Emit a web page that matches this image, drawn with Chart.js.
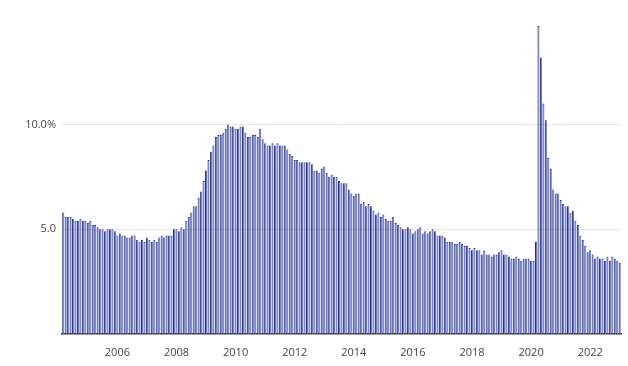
<!DOCTYPE html>
<html>
<head>
<meta charset="utf-8">
<script src="https://cdn.jsdelivr.net/npm/chart.js@4"></script>
<style>
  html, body { margin: 0; padding: 0; background: #fff; }
  #wrap { width: 628px; height: 366px; }
</style>
</head>
<body>
<div id="wrap"><canvas id="rateChart" width="628" height="366"></canvas></div>
<script>
// monthly unemployment rate, Mar 2004 - Jan 2023
const startYear = 2004;
const startMonth = 3;

const rates = [
  5.8, 5.6, 5.6, 5.6, 5.5, 5.4, 5.4, 5.5, 5.4, 5.4,           // 2004 (Mar-Dec)
  5.3, 5.4, 5.2, 5.2, 5.1, 5.0, 5.0, 4.9, 5.0, 5.0, 5.0, 4.9, // 2005
  4.7, 4.8, 4.7, 4.7, 4.6, 4.6, 4.7, 4.7, 4.5, 4.4, 4.5, 4.4, // 2006
  4.6, 4.5, 4.4, 4.5, 4.4, 4.6, 4.7, 4.6, 4.7, 4.7, 4.7, 5.0, // 2007
  5.0, 4.9, 5.1, 5.0, 5.4, 5.6, 5.8, 6.1, 6.1, 6.5, 6.8, 7.3, // 2008
  7.8, 8.3, 8.7, 9.0, 9.4, 9.5, 9.5, 9.6, 9.8, 10.0, 9.9, 9.9, // 2009
  9.8, 9.8, 9.9, 9.9, 9.6, 9.4, 9.4, 9.5, 9.5, 9.4, 9.8, 9.3, // 2010
  9.1, 9.0, 9.0, 9.1, 9.0, 9.1, 9.0, 9.0, 9.0, 8.8, 8.6, 8.5, // 2011
  8.3, 8.3, 8.2, 8.2, 8.2, 8.2, 8.2, 8.1, 7.8, 7.8, 7.7, 7.9, // 2012
  8.0, 7.7, 7.5, 7.6, 7.5, 7.5, 7.3, 7.2, 7.2, 7.2, 6.9, 6.7, // 2013
  6.6, 6.7, 6.7, 6.2, 6.3, 6.1, 6.2, 6.1, 5.9, 5.7, 5.8, 5.6, // 2014
  5.7, 5.5, 5.4, 5.4, 5.6, 5.3, 5.2, 5.1, 5.0, 5.0, 5.1, 5.0, // 2015
  4.8, 4.9, 5.0, 5.1, 4.8, 4.9, 4.8, 4.9, 5.0, 4.9, 4.7, 4.7, // 2016
  4.7, 4.6, 4.4, 4.4, 4.4, 4.3, 4.3, 4.4, 4.3, 4.2, 4.2, 4.1, // 2017
  4.0, 4.1, 4.0, 4.0, 3.8, 4.0, 3.8, 3.8, 3.7, 3.8, 3.8, 3.9, // 2018
  4.0, 3.8, 3.8, 3.7, 3.6, 3.6, 3.7, 3.6, 3.5, 3.6, 3.6, 3.6, // 2019
  3.5, 3.5, 4.4, 14.7, 13.2, 11.0, 10.2, 8.4, 7.9, 6.9, 6.7, 6.7, // 2020
  6.4, 6.2, 6.1, 6.1, 5.8, 5.9, 5.4, 5.2, 4.7, 4.5, 4.2, 3.9, // 2021
  4.0, 3.8, 3.6, 3.7, 3.6, 3.6, 3.5, 3.7, 3.5, 3.7, 3.6, 3.5, // 2022
  3.4                                                         // 2023 (Jan)
];

const months = rates.map((_, i) => {
  const m = startMonth - 1 + i;
  const y = startYear + Math.floor(m / 12);
  return y + "-" + String((m % 12) + 1).padStart(2, "0");
});

const yTicks = [5, 10];
const yMax = 14.7;

new Chart(document.getElementById("rateChart"), {
  type: "bar",
  data: {
    labels: months,
    datasets: [{
      data: rates,
      backgroundColor: "#6f7bc0",
      borderColor: "#26328a",
      borderWidth: { left: 1, right: 0, top: 1, bottom: 0 },
      borderSkipped: false,
      categoryPercentage: 1,
      barPercentage: 0.85
    }]
  },
  options: {
    responsive: false,
    animation: false,
    layout: { padding: { top: 26, right: 7, left: 0, bottom: 0 } },
    plugins: { legend: { display: false }, tooltip: { enabled: false } },
    scales: {
      x: {
        grid: { display: false },
        border: { display: true, color: "#333", width: 1.5 },
        ticks: {
          autoSkip: false,
          maxRotation: 0,
          color: "#444",
          font: { family: "Open Sans", size: 11 },
          padding: 4,
          callback: function (val, i) {
            const lbl = months[i];
            const y = Number(lbl.slice(0, 4));
            return lbl.endsWith("-01") && y % 2 === 0 ? String(y) : "";
          }
        },
        afterFit: (axis) => { axis.height = 32; }
      },
      y: {
        min: 0,
        max: yMax,
        border: { display: false },
        grid: { color: "rgba(0,0,0,0.09)", drawTicks: false, z: 1 },
        ticks: {
          color: "#444",
          font: { family: "Open Sans", size: 11 },
          padding: 6,
          callback: (v) => v === 10 ? "10.0%" : v.toFixed(1)
        },
        afterBuildTicks: (axis) => { axis.ticks = yTicks.map((v) => ({ value: v })); },
        afterFit: (axis) => { axis.width = 62; }
      }
    }
  }
});
</script>
</body>
</html>
